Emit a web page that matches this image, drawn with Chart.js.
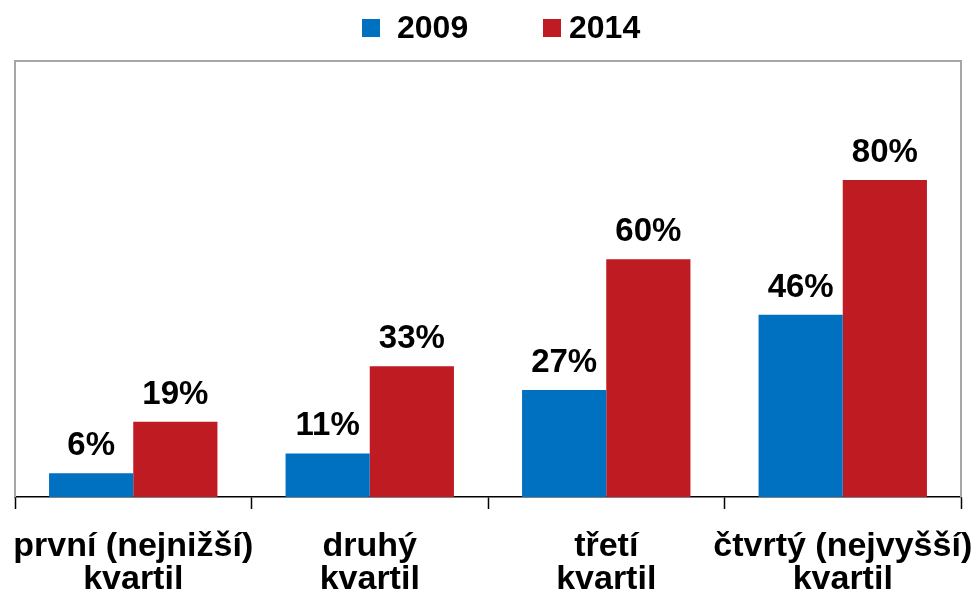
<!DOCTYPE html>
<html>
<head>
<meta charset="utf-8">
<script src="https://cdn.jsdelivr.net/npm/chart.js@4"></script>
<style>
  html, body { margin: 0; padding: 0; background: #fff; }
  #wrap { width: 976px; height: 596px; }
</style>
</head>
<body>
<div id="wrap"><canvas id="chart" width="976" height="596"></canvas></div>
<script>
// data
const categories = [
  ['první (nejnižší)', 'kvartil'],
  ['druhý', 'kvartil'],
  ['třetí', 'kvartil'],
  ['čtvrtý (nejvyšší)', 'kvartil']
];
const values2009 = [6, 11, 27, 46];
const values2014 = [19, 33, 60, 80];
const seriesNames = ['2009', '2014'];

const COLORS = {
  blue: '#0070C0',
  red: '#BF1B23',
  frame: '#A6A6A6',
  text: '#000000'
};
const FONT = 'Arial, "Liberation Sans", sans-serif';

// gray frame on left / top / right of the plot area
const framePlugin = {
  id: 'frame',
  beforeDatasetsDraw(chart) {
    const { ctx, chartArea: a } = chart;
    ctx.save();
    ctx.strokeStyle = COLORS.frame;
    ctx.lineWidth = 2;
    ctx.beginPath();
    ctx.moveTo(a.left, a.bottom);
    ctx.lineTo(a.left, a.top);
    ctx.lineTo(a.right, a.top);
    ctx.lineTo(a.right, a.bottom);
    ctx.stroke();
    ctx.restore();
  }
};

// value labels above each bar
const valueLabels = {
  id: 'valueLabels',
  afterDatasetsDraw(chart) {
    const { ctx } = chart;
    ctx.save();
    ctx.font = 'bold 33px ' + FONT;
    ctx.fillStyle = COLORS.text;
    ctx.textAlign = 'center';
    ctx.textBaseline = 'alphabetic';
    chart.data.datasets.forEach((ds, i) => {
      chart.getDatasetMeta(i).data.forEach((bar, j) => {
        ctx.fillText(ds.data[j] + '%', bar.x, bar.y - 18);
      });
    });
    ctx.restore();
  }
};

// legend drawn like the original (Excel-style spacing)
const topLegend = {
  id: 'topLegend',
  afterDraw(chart) {
    const { ctx } = chart;
    const items = [
      { box: 362, text: 397 },
      { box: 543, text: 569 }
    ];
    ctx.save();
    ctx.font = 'bold 32px ' + FONT;
    ctx.textBaseline = 'alphabetic';
    chart.data.datasets.forEach((ds, i) => {
      const it = items[i];
      ctx.fillStyle = ds.backgroundColor;
      ctx.fillRect(it.box, 19, 18, 18);
      ctx.fillStyle = COLORS.text;
      ctx.fillText(ds.label, it.text, 38);
    });
    ctx.restore();
  }
};

new Chart(document.getElementById('chart'), {
  type: 'bar',
  data: {
    labels: categories,
    datasets: [
      { label: seriesNames[0], data: values2009, backgroundColor: COLORS.blue, borderWidth: 0 },
      { label: seriesNames[1], data: values2014, backgroundColor: COLORS.red, borderWidth: 0 }
    ]
  },
  options: {
    responsive: false,
    animation: false,
    layout: { padding: { left: 15, right: 15, top: 61, bottom: 0 } },
    datasets: {
      bar: { categoryPercentage: 0.712, barPercentage: 1 }
    },
    scales: {
      x: {
        offset: true,
        grid: {
          display: true,
          offset: true,
          drawOnChartArea: false,
          drawTicks: true,
          tickLength: 12,
          tickWidth: 1.5,
          tickColor: '#000'
        },
        border: { display: true, color: '#000', width: 1.5 },
        ticks: {
          color: COLORS.text,
          font: { family: FONT, size: 34, weight: 'bold', lineHeight: 0.98 },
          padding: 21,
          maxRotation: 0,
          autoSkip: false
        },
        afterFit(scale) {
          // labels may overhang the plot edges, like in the original
          scale.height = 99;
          scale.paddingLeft = 0;
          scale.paddingRight = 0;
        }
      },
      y: {
        display: false,
        min: 0,
        max: 110
      }
    },
    plugins: {
      legend: { display: false },
      tooltip: { enabled: false }
    }
  },
  plugins: [framePlugin, valueLabels, topLegend]
});
</script>
</body>
</html>
